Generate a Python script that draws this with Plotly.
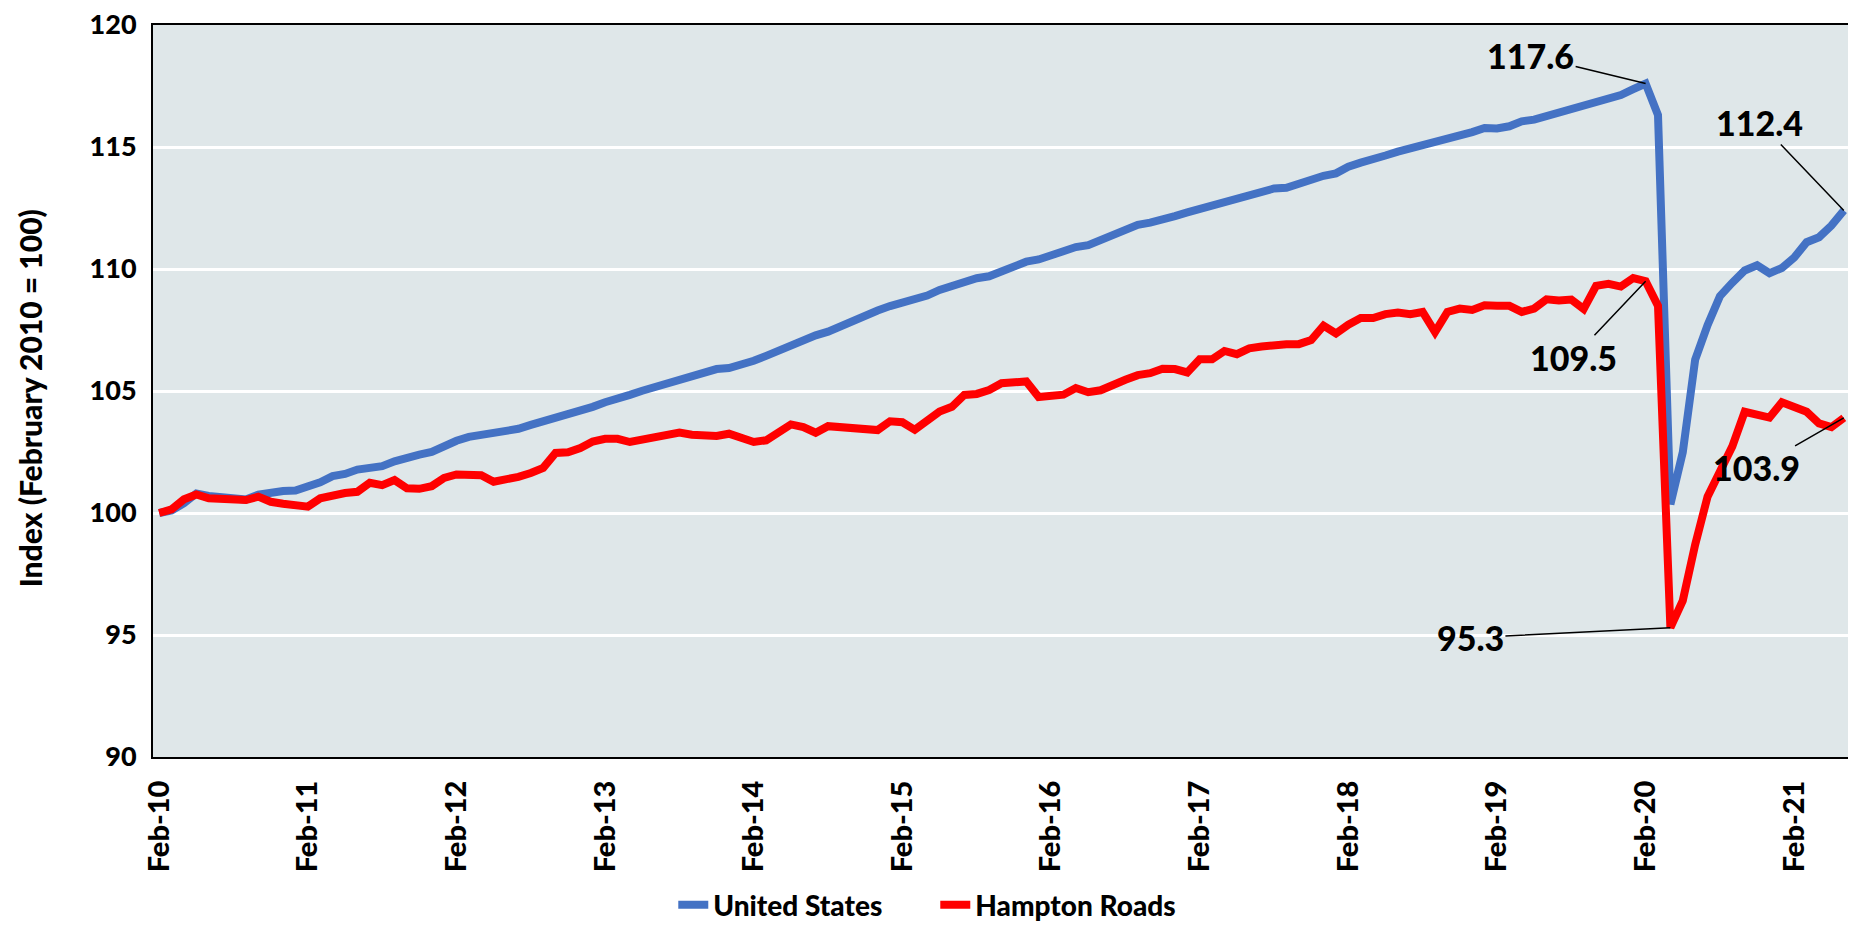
import pandas as pd
import plotly.graph_objects as go

# Monthly categories Feb-10 .. Jun-21
months = list(pd.date_range("2010-02-01", periods=137, freq="MS").strftime("%b-%y"))

tick_labels = ["Feb-10", "Feb-11", "Feb-12", "Feb-13", "Feb-14", "Feb-15",
               "Feb-16", "Feb-17", "Feb-18", "Feb-19", "Feb-20", "Feb-21"]
y_ticks = [90, 95, 100, 105, 110, 115, 120]

united_states = [
    100.0, 100.1, 100.4, 100.8, 100.7, 100.63, 100.6, 100.55, 100.75, 100.86,
    100.9, 100.92, 101.06, 101.26, 101.51, 101.6, 101.78, 101.85, 101.92, 102.12,
    102.28, 102.39, 102.5, 102.77, 102.96, 103.12, 103.21, 103.27, 103.33, 103.45,
    103.61, 103.75, 103.87, 103.99, 104.18, 104.35, 104.54, 104.66, 104.84, 105.01,
    105.16, 105.24, 105.41, 105.57, 105.73, 105.9, 105.94, 106.06, 106.24, 106.44,
    106.67, 106.88, 107.09, 107.28, 107.43, 107.66, 107.87, 108.11, 108.3, 108.48,
    108.64, 108.72, 108.91, 109.14, 109.29, 109.52, 109.62, 109.7, 109.9, 110.08,
    110.3, 110.39, 110.57, 110.76, 110.9, 110.98, 111.2, 111.45, 111.6, 111.81,
    111.9, 112.01, 112.17, 112.32, 112.46, 112.57, 112.72, 112.87, 113.03, 113.19,
    113.3, 113.33, 113.51, 113.65, 113.82, 113.92, 114.19, 114.36, 114.47, 114.65,
    114.81, 114.93, 115.11, 115.2, 115.31, 115.42, 115.61, 115.78, 115.76, 115.85,
    116.05, 116.12, 116.26, 116.37, 116.52, 116.63, 116.79, 116.97, 117.13, 117.37,
    117.6, 116.31, 100.36, 102.49, 106.28, 107.7, 108.89, 109.44, 109.94, 110.15,
    109.83, 110.04, 110.47, 111.1, 111.3, 111.78, 112.4,
]

hampton_roads = [
    100.0, 100.15, 100.56, 100.76, 100.6, 100.58, 100.54, 100.53, 100.67, 100.46,
    100.38, 100.29, 100.26, 100.6, 100.72, 100.82, 100.87, 101.24, 101.14, 101.35,
    101.01, 100.99, 101.1, 101.44, 101.58, 101.6, 101.55, 101.28, 101.35, 101.48,
    101.64, 101.85, 102.46, 102.49, 102.66, 102.93, 103.04, 103.04, 102.91, 102.99,
    103.07, 103.17, 103.3, 103.21, 103.16, 103.16, 103.25, 103.04, 102.91, 102.98,
    103.34, 103.63, 103.52, 103.29, 103.56, 103.52, 103.41, 103.36, 103.4, 103.76,
    103.72, 103.41, 103.79, 104.16, 104.35, 104.84, 104.88, 105.04, 105.32, 105.35,
    105.39, 104.75, 104.8, 104.85, 105.12, 104.95, 105.03, 105.27, 105.46, 105.65,
    105.73, 105.91, 105.9, 105.76, 106.3, 106.3, 106.64, 106.51, 106.75, 106.82,
    106.9, 106.92, 106.92, 107.09, 107.68, 107.36, 107.72, 107.99, 107.99, 108.15,
    108.22, 108.15, 108.24, 107.41, 108.24, 108.38, 108.32, 108.51, 108.49, 108.49,
    108.24, 108.38, 108.76, 108.71, 108.75, 108.36, 109.31, 109.39, 109.28, 109.63,
    109.5, 108.49, 95.3, 96.41, 98.7, 100.67, 101.7, 102.73, 104.15, 103.99,
    103.91, 104.54, 104.38, 104.15, 103.67, 103.52, 103.9,
]

FONT = "Lato"
W = 900
BLUE = "#4472C4"
RED = "#FF0000"

fig = go.Figure()
fig.add_trace(go.Scatter(x=months, y=united_states, name="United States",
                         mode="lines", line=dict(color=BLUE, width=8)))
fig.add_trace(go.Scatter(x=months, y=hampton_roads, name="Hampton Roads",
                         mode="lines", line=dict(color=RED, width=8)))

i_peak = months.index("Feb-20")
i_trough = months.index("Apr-20")
i_last = len(months) - 1

labels = [
    (months[i_peak], united_states[i_peak], -115, -28),
    (months[i_last], united_states[i_last], -84, -88),
    (months[i_peak], hampton_roads[i_peak], -72, 76),
    (months[i_trough], hampton_roads[i_trough], -200, 10),
    (months[i_last], hampton_roads[i_last], -87, 50),
]
for xv, yv, ax, ay in labels:
    fig.add_annotation(x=xv, y=yv, text=f"{yv:.1f}", showarrow=True,
                       ax=ax, ay=ay, arrowhead=0, arrowwidth=1.5,
                       arrowcolor="black", standoff=0,
                       font=dict(family=FONT, size=34, color="black", weight=W))

fig.add_annotation(text="Index (February 2010 = 100)", textangle=-90,
                   xref="paper", yref="paper", x=-0.0725, y=0.49,
                   xanchor="center", yanchor="middle", showarrow=False,
                   font=dict(family=FONT, size=30, color="black", weight=W))

fig.update_layout(
    width=1848, height=917,
    margin=dict(l=145, r=6, t=17, b=168, autoexpand=False),
    paper_bgcolor="white",
    plot_bgcolor="#DFE7E9",
    showlegend=True,
    legend=dict(orientation="h", xref="container", yref="container",
                x=0.36, y=0.0218, xanchor="left", yanchor="middle",
                entrywidth=217, entrywidthmode="pixels",
                font=dict(family=FONT, size=28, color="black", weight=W),
                tracegroupgap=0, bgcolor="rgba(0,0,0,0)"),
    xaxis=dict(type="category", range=[-0.5, len(months) - 0.5],
               tickmode="array", tickvals=tick_labels, ticktext=tick_labels,
               tickangle=-90, showgrid=False, zeroline=False, automargin=False,
               showline=True, mirror=True, linecolor="black", linewidth=2,
               ticks="", ticklabelstandoff=10, ticklabeloverflow="allow",
               tickfont=dict(family=FONT, size=29, color="black", weight=W)),
    yaxis=dict(range=[90, 120], tickmode="array", tickvals=y_ticks,
               showgrid=True, gridcolor="white", gridwidth=2.5, zeroline=False,
               automargin=False, ticklabeloverflow="allow",
               showline=True, mirror=True, linecolor="black", linewidth=2,
               ticks="", ticklabelstandoff=9,
               tickfont=dict(family=FONT, size=27, color="black", weight=W)),
)

fig.write_html("out.html")
